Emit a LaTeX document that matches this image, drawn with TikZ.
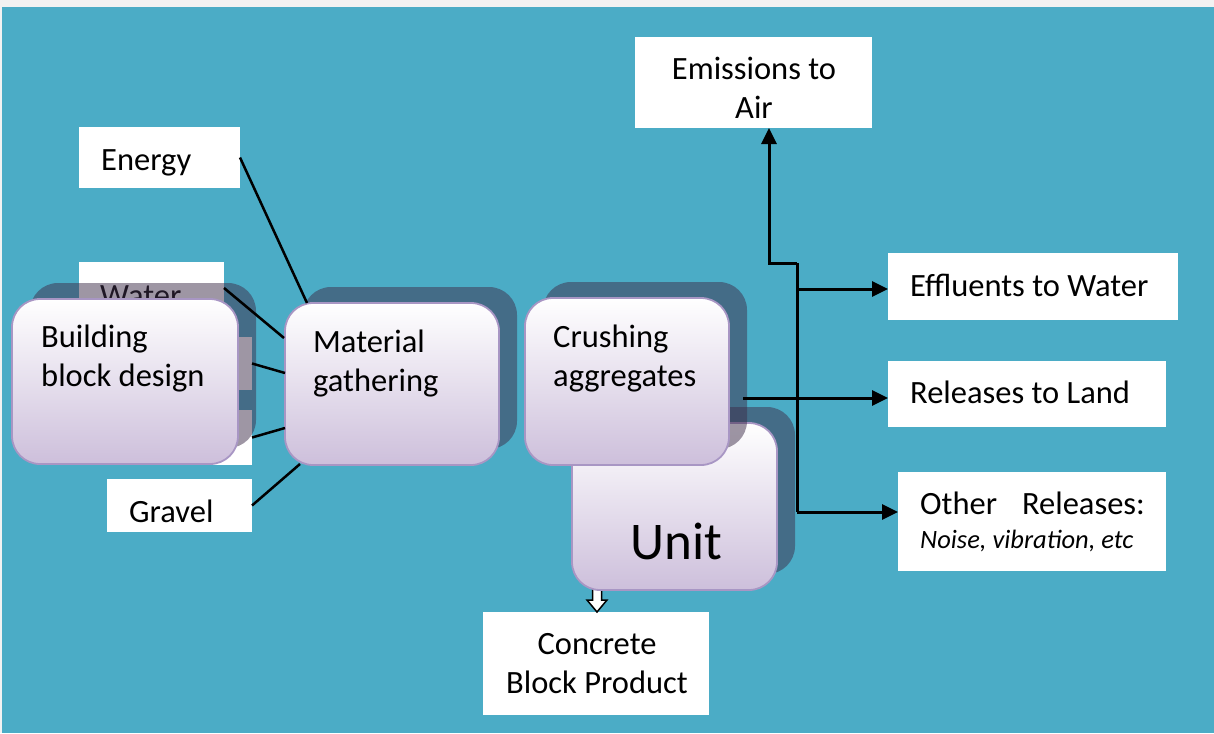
\documentclass[tikz,border=0pt]{standalone}
\usepackage{fontspec}
\setmainfont{Carlito}
\usetikzlibrary{arrows.meta,shadows,calc}
\definecolor{bg}{RGB}{75,172,198}
\definecolor{page}{RGB}{242,242,242}
\definecolor{shad}{RGB}{62,46,74}
\definecolor{lav}{RGB}{205,191,219}
\definecolor{bord}{RGB}{168,150,196}
\begin{document}
\begin{tikzpicture}[x=1pt,y=-1pt,
  wbox/.style={rectangle, fill=white, draw=none, inner sep=0pt, outer sep=0pt},
  rbox/.style={rectangle, rounded corners=28pt, draw=bord, line width=1.8pt,
    top color=white, bottom color=lav, inner sep=0pt, outer sep=0pt,
    general shadow={shadow xshift=18pt, shadow yshift=16pt, fill=shad, opacity=0.5}},
  txt/.style={font=\fontsize{32.5}{39}\selectfont, inner sep=0pt, anchor=base west},
  ctxt/.style={txt, anchor=base},
  feed/.style={draw=black, line width=2.5pt},
  link/.style={draw=black, line width=3pt},
  arr/.style={link, -{Triangle[length=16pt,width=15pt]}},
]
\useasboundingbox (0,0) rectangle (1214,733);
\fill[page] (0,0) rectangle (1214,733);
\fill[bg] (2,7) rectangle (1214,733);

% input boxes (partly hidden)
\node[wbox, minimum width=161pt, minimum height=61pt] (energy) at (159.5,157.5) {};
\node[txt] (tenergy) at (101,170) {Energy};
\node[wbox, minimum width=145pt, minimum height=58pt] (water) at (151.5,291) {};
\node[txt] (twater) at (100,306) {Water};
\node[wbox, minimum width=152pt, minimum height=53pt] (hidA) at (176,363.5) {};
\node[wbox, minimum width=152pt, minimum height=55pt] (hidB) at (176,437.5) {};
\node[wbox, minimum width=145pt, minimum height=53pt] (gravel) at (179.5,505.5) {};
\node[txt] (tgravel) at (129,522) {Gravel};

% output boxes
\node[wbox, minimum width=237pt, minimum height=91pt] (emis) at (753.5,82.5) {};
\node[ctxt] (temis1) at (754,80) {Emissions to};
\node[ctxt] (temis2) at (754,118) {Air};
\node[wbox, minimum width=290pt, minimum height=67pt] (effl) at (1033,286.5) {};
\node[txt] (teffl) at (910,296) {Effluents to Water};
\node[wbox, minimum width=278pt, minimum height=66pt] (land) at (1027,394) {};
\node[txt] (tland) at (910,403) {Releases to Land};
\node[wbox, minimum width=268pt, minimum height=99pt] (other) at (1032,521.5) {};
\node[txt] (tother1) at (920,514) {Other};
\node[txt, anchor=base east] (tother2) at (1145,514) {Releases:};
\node[txt, font=\fontsize{26.5}{31}\selectfont\itshape] (tother3) at (920,548) {Noise, vibration, etc};
\node[wbox, minimum width=226pt, minimum height=103pt] (concrete) at (596,663.5) {};
\node[ctxt] (tconc1) at (597,654) {Concrete};
\node[ctxt] (tconc2) at (597,693) {Block Product};

% hollow arrow unit -> concrete
\draw[line width=1.5pt, fill=white] (592.5,585) -- (601.5,585) -- (601.5,600) -- (607,600)
  -- (597,612) -- (587,600) -- (592.5,600) -- cycle;

% process boxes
\node[rbox, minimum width=226pt, minimum height=165pt] (bbd) at (125,381.5) {};
\node[txt] (tbbd1) at (41,347) {Building};
\node[txt] (tbbd2) at (41,386) {block design};

\node[rbox, minimum width=214pt, minimum height=162pt] (mat) at (392,384) {};
\node[txt] (tmat1) at (313,352) {Material};
\node[txt] (tmat2) at (313,391) {gathering};

\node[rbox, minimum width=205pt, minimum height=167pt] (unit) at (674.5,506.5) {};
\node[txt, font=\fontsize{53}{62}\selectfont] (tunit) at (630,559) {Unit};

\node[rbox, minimum width=204pt, minimum height=167pt] (crush) at (627,381.5) {};
\node[txt] (tcrush1) at (553,347) {Crushing};
\node[txt] (tcrush2) at (553,386) {aggregates};

% feed lines
\draw[feed] (energy.east) -- ($(mat.north west)+(22,0)$);
\draw[feed] ($(water.north east)+(0,26)$) -- ($(mat.north west)+(-1,35)$);
\draw[feed] (hidA.east) -- ($(mat.west)+(0,-11)$);
\draw[feed] (hidB.east) -- ($(mat.west)+(0,44)$);
\draw[feed] (gravel.east) -- ($(mat.south west)+(15,-1)$);

% output connectors
\coordinate (c1) at ($(crush.east)+(14,16.5)$);
\draw[arr] (c1) -- (c1 -| land.west);
\coordinate (jt) at (797,263);
\coordinate (jb) at (797,512);
\coordinate (je) at (769,263);
\coordinate (jw) at (797,289);
\draw[link] (jt) -- (jb);
\draw[arr] (jt) -- (je) -- (je |- emis.south);
\draw[arr] (jw) -- (jw -| effl.west);
\draw[arr] (jb) -- (jb -| other.west);
\end{tikzpicture}
\end{document}
